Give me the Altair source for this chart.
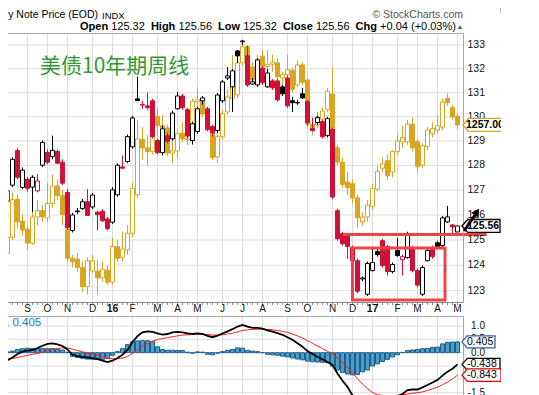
import altair as alt
import numpy as np
import pandas as pd

# ---------------- data ----------------
START = "2015-08-03"
N_WEEKS = 92
week_dates = pd.date_range(START, periods=N_WEEKS, freq="7D").strftime("%Y-%m-%d").tolist()

# 10-year Treasury note price, weekly candles
tn_open = [127.33, 126.55, 127.20, 128.61, 127.11, 127.44, 127.12, 126.97, 128.01, 128.53,
           128.36, 128.57, 128.13, 126.91, 125.38, 126.13, 126.26, 126.53, 126.32, 126.11,
           126.15, 125.84, 125.71, 126.81, 127.94, 128.16, 128.76, 130.74, 130.50, 130.45,
           130.66, 129.02, 128.52, 129.22, 129.09, 130.33, 130.86, 130.29, 129.02, 129.39,
           130.66, 130.33, 129.59, 129.43, 130.66, 131.61, 131.24, 132.75, 133.14, 132.54,
           131.36, 131.32, 132.03, 131.24, 131.49, 131.49, 131.24, 131.61, 130.66, 130.57,
           130.95, 130.62, 129.51, 129.76, 129.80, 129.22, 129.47, 126.17, 125.25, 125.17,
           124.70, 124.18, 123.46, 122.86, 123.79, 124.54, 124.97, 124.74, 123.75, 124.58,
           124.22, 124.30, 124.70, 123.79, 122.86, 124.18, 124.70, 124.89, 124.78, 125.72,
           125.60, 125.32]
tn_high = [127.44, 127.32, 128.33, 128.69, 127.92, 127.52, 127.60, 127.64, 129.02, 128.65,
           129.22, 128.65, 128.25, 127.04, 126.08, 126.28, 126.64, 127.04, 126.88, 126.17,
           126.24, 125.92, 127.12, 128.09, 128.41, 129.26, 130.04, 131.67, 130.66, 131.00,
           130.74, 129.10, 129.63, 129.34, 130.25, 131.03, 130.95, 130.37, 129.80, 130.41,
           130.86, 130.41, 129.67, 130.98, 131.53, 132.07, 131.99, 132.79, 133.21, 132.96,
           131.61, 132.45, 132.12, 131.99, 131.57, 131.57, 131.32, 131.70, 130.82, 130.70,
           131.19, 130.70, 129.96, 130.04, 129.88, 130.00, 129.55, 126.24, 125.33, 125.25,
           124.78, 124.26, 123.56, 124.15, 124.66, 124.66, 125.05, 124.81, 124.11, 125.09,
           124.42, 125.33, 124.78, 123.87, 123.99, 124.66, 124.78, 124.97, 125.96, 126.36,
           125.64, 125.56]
tn_low = [126.60, 126.50, 127.12, 127.44, 127.04, 126.95, 126.12, 126.91, 127.93, 128.05,
          128.25, 128.05, 127.20, 125.41, 125.30, 126.04, 126.20, 125.96, 126.24, 125.38,
          125.71, 125.38, 125.64, 126.73, 127.84, 128.09, 128.69, 130.66, 130.33, 130.29,
          129.10, 128.45, 128.41, 128.90, 129.02, 130.29, 130.29, 129.10, 128.86, 129.30,
          130.49, 129.39, 129.18, 129.34, 130.58, 131.53, 130.20, 132.24, 133.00, 131.24,
          131.32, 131.24, 131.32, 131.20, 131.11, 130.62, 130.86, 130.37, 130.20, 130.49,
          130.74, 129.63, 129.39, 129.67, 129.10, 129.14, 126.64, 124.97, 124.78, 124.26,
          124.11, 122.90, 123.37, 122.79, 123.75, 124.34, 123.91, 123.60, 123.68, 124.34,
          123.60, 124.26, 123.72, 123.14, 122.79, 124.15, 124.26, 124.66, 124.70, 125.68,
          125.21, 125.32]
tn_close = [127.04, 126.97, 128.25, 127.52, 127.81, 127.07, 127.52, 127.37, 128.94, 128.13,
            128.62, 128.09, 127.28, 125.49, 126.00, 126.16, 126.53, 125.98, 126.80, 126.01,
            125.77, 125.45, 127.01, 128.01, 127.89, 129.18, 129.95, 130.67, 130.48, 130.38,
            129.18, 128.52, 129.50, 128.99, 130.15, 130.86, 130.37, 129.20, 129.71, 130.33,
            130.78, 129.47, 129.34, 130.90, 131.45, 131.70, 131.91, 132.54, 133.17, 131.32,
            131.45, 132.37, 131.41, 131.82, 131.20, 130.70, 130.95, 130.45, 130.58, 130.59,
            130.78, 129.76, 129.43, 129.96, 129.18, 129.92, 126.72, 125.05, 124.85, 124.74,
            124.18, 122.98, 123.50, 124.07, 124.11, 124.42, 123.99, 123.75, 124.03, 124.38,
            124.34, 125.25, 123.79, 123.22, 123.91, 124.58, 124.34, 124.74, 125.88, 125.92,
            125.52, 125.56]

# gold overlay (own scale), weekly candles
gold_open = [1093, 1093, 1112, 1159, 1132, 1122, 1105, 1137, 1145, 1136,
             1154, 1176, 1164, 1122, 1087, 1086, 1076, 1054, 1072, 1072,
             1064, 1073, 1059, 1101, 1088, 1097, 1117, 1165, 1237, 1226,
             1221, 1269, 1256, 1253, 1219, 1222, 1246, 1238, 1237, 1289,
             1290, 1272, 1253, 1214, 1241, 1275, 1294, 1299, 1345, 1369,
             1339, 1320, 1355, 1340, 1343, 1345, 1323, 1328, 1334, 1313,
             1342, 1320, 1258, 1257, 1265, 1278, 1300, 1226, 1207, 1181,
             1179, 1161, 1131, 1137, 1150, 1172, 1199, 1209, 1194, 1221,
             1234, 1234, 1258, 1234, 1203, 1228, 1245, 1250, 1254, 1294,
             1281, 1269]
gold_high = [1100, 1125, 1168, 1165, 1140, 1127, 1146, 1158, 1152, 1180,
             1191, 1184, 1171, 1131, 1091, 1093, 1083, 1088, 1091, 1085,
             1083, 1079, 1111, 1109, 1119, 1127, 1180, 1264, 1254, 1243,
             1281, 1281, 1271, 1257, 1237, 1250, 1261, 1257, 1294, 1310,
             1294, 1281, 1256, 1248, 1278, 1306, 1357, 1349, 1376, 1372,
             1346, 1357, 1364, 1364, 1357, 1352, 1332, 1357, 1338, 1349,
             1346, 1323, 1267, 1275, 1281, 1309, 1339, 1230, 1213, 1194,
             1184, 1165, 1143, 1158, 1178, 1203, 1213, 1217, 1223, 1246,
             1256, 1264, 1267, 1237, 1232, 1254, 1261, 1271, 1294, 1301,
             1285, 1273]
gold_low = [1079, 1088, 1109, 1123, 1114, 1097, 1103, 1127, 1131, 1131,
            1148, 1158, 1127, 1083, 1076, 1071, 1048, 1045, 1070, 1045,
            1059, 1056, 1056, 1083, 1083, 1091, 1112, 1161, 1210, 1203,
            1217, 1243, 1230, 1215, 1206, 1213, 1234, 1230, 1230, 1275,
            1268, 1250, 1210, 1206, 1237, 1271, 1285, 1294, 1341, 1320,
            1313, 1316, 1332, 1328, 1332, 1320, 1313, 1316, 1303, 1310,
            1313, 1254, 1243, 1253, 1261, 1275, 1220, 1203, 1174, 1164,
            1154, 1123, 1126, 1131, 1146, 1169, 1194, 1184, 1187, 1217,
            1226, 1230, 1221, 1194, 1199, 1223, 1240, 1246, 1250, 1284,
            1264, 1251]
gold_close = [1091, 1112, 1159, 1131, 1121, 1105, 1137, 1145, 1137, 1154,
              1176, 1164, 1140, 1087, 1083, 1076, 1054, 1084, 1084, 1064,
              1074, 1059, 1101, 1087, 1098, 1117, 1173, 1238, 1226, 1221,
              1271, 1256, 1253, 1219, 1222, 1245, 1238, 1237, 1290, 1292,
              1272, 1253, 1213, 1241, 1273, 1296, 1313, 1345, 1369, 1325,
              1320, 1349, 1340, 1343, 1346, 1325, 1328, 1335, 1307, 1342,
              1317, 1258, 1250, 1268, 1276, 1304, 1224, 1207, 1178, 1174,
              1161, 1136, 1137, 1152, 1173, 1195, 1205, 1189, 1221, 1235,
              1240, 1258, 1226, 1201, 1229, 1250, 1252, 1256, 1289, 1288,
              1268, 1257]

# MACD(12,26,9) panel
macd_line = [-0.33, -0.28, -0.18, -0.05, 0.04, 0.08, 0.10, 0.17, 0.26, 0.33,
             0.35, 0.31, 0.25, 0.12, -0.08, -0.13, -0.16, -0.18, -0.20, -0.24,
             -0.30, -0.35, -0.30, -0.20, -0.08, 0.10, 0.40, 0.62, 0.76, 0.80,
             0.78, 0.72, 0.68, 0.70, 0.76, 0.78, 0.76, 0.72, 0.70, 0.72,
             0.70, 0.63, 0.58, 0.64, 0.72, 0.80, 0.88, 0.98, 1.04, 0.98,
             0.93, 0.93, 0.90, 0.84, 0.79, 0.73, 0.67, 0.58, 0.48, 0.35,
             0.22, 0.06, -0.05, -0.15, -0.25, -0.35, -0.46, -0.78, -1.05, -1.28,
             -1.60, -1.85, -2.00, -2.05, -2.05, -1.98, -1.90, -1.80, -1.70, -1.62,
             -1.55, -1.40, -1.38, -1.38, -1.30, -1.21, -1.12, -1.02, -0.86, -0.71,
             -0.60, -0.438]
macd_signal = [-0.28, -0.25, -0.22, -0.18, -0.14, -0.10, -0.06, -0.03, 0.02, 0.07,
               0.12, 0.16, 0.18, 0.18, 0.13, 0.08, 0.03, -0.01, -0.05, -0.09,
               -0.16, -0.20, -0.23, -0.23, -0.20, -0.14, -0.02, 0.11, 0.24, 0.35,
               0.43, 0.49, 0.53, 0.56, 0.60, 0.63, 0.66, 0.67, 0.68, 0.69,
               0.69, 0.68, 0.66, 0.66, 0.67, 0.70, 0.73, 0.78, 0.83, 0.86,
               0.87, 0.88, 0.88, 0.87, 0.86, 0.83, 0.80, 0.76, 0.70, 0.63,
               0.55, 0.45, 0.35, 0.25, 0.15, 0.05, -0.05, -0.20, -0.37, -0.55,
               -0.76, -0.98, -1.18, -1.35, -1.49, -1.58, -1.60, -1.62, -1.62, -1.61,
               -1.58, -1.55, -1.52, -1.50, -1.47, -1.42, -1.36, -1.29, -1.20, -1.10,
               -0.98, -0.843]
macd_hist = [-0.05, 0.03, 0.06, 0.12, 0.15, 0.17, 0.16, 0.15, 0.15, 0.15,
             0.15, 0.13, 0.10, 0.02, -0.14, -0.18, -0.21, -0.24, -0.25, -0.25,
             -0.25, -0.22, -0.10, 0.04, 0.15, 0.30, 0.41, 0.44, 0.45, 0.45,
             0.42, 0.22, 0.12, 0.09, 0.09, 0.08, 0.08, 0.02, -0.02, 0.03,
             0.02, -0.06, -0.08, -0.02, 0.04, 0.09, 0.12, 0.18, 0.17, 0.09,
             0.06, 0.04, 0.00, -0.06, -0.08, -0.10, -0.13, -0.16, -0.20, -0.24,
             -0.27, -0.32, -0.34, -0.35, -0.36, -0.38, -0.50, -0.65, -0.74, -0.80,
             -0.83, -0.82, -0.72, -0.65, -0.50, -0.42, -0.33, -0.25, -0.16, -0.08,
             0.01, 0.08, 0.10, 0.12, 0.15, 0.16, 0.20, 0.21, 0.33, 0.39,
             0.40, 0.405]

# axis ticks / labels
month_dates = ["2015-08-03", "2015-09-07", "2015-10-05", "2015-11-02", "2015-12-07",
               "2016-01-04", "2016-02-01", "2016-03-07", "2016-04-04", "2016-05-02",
               "2016-06-06", "2016-07-04", "2016-08-01", "2016-09-05", "2016-10-03",
               "2016-11-07", "2016-12-05", "2017-01-02", "2017-02-06", "2017-03-06",
               "2017-04-03", "2017-05-01"]
month_labels = ["A", "S", "O", "N", "D", "16", "F", "M", "A", "M", "J", "J", "A",
                "S", "O", "N", "D", "17", "F", "M", "A", "M"]
price_ticks = [123, 124, 125, 126, 127, 128, 129, 130, 131, 132, 133]
macd_ticks = [1.0, 0.5, 0.0, -0.5, -1.0, -1.5]
macd_tick_text = ["1.0", "0.5", "0.0", "-0.5", "-1.0", "-1.5"]
last_gold_label = 1257.00
chg_text = "+0.04 (+0.03%)"

# annotations drawn on the chart (in data coordinates)
box_dates = ["2016-12-05", "2017-04-13T12:00:00Z"]
box_prices = [124.68, 122.64]
hline_dates = ["2016-11-21T17:00:00Z", "2017-06-11T00:00:00Z"]
hline_price = 125.22

for arr in (tn_open, tn_high, tn_low, tn_close, gold_open, gold_high, gold_low,
            gold_close, macd_line, macd_signal, macd_hist):
    assert len(arr) == N_WEEKS, len(arr)

# ---------------- styling ----------------
FONT = "Liberation Sans"
BLACK = "#000000"
RED = "#d0103a"
GOLD = "#daa520"
GRID = "#dedede"
FRAME = "#a8a8a8"
ANN = "#ef4444"

W, H = 493, 387          # the StockCharts image: page x 8..501, y 8..395

# x scale: 5 px per week, candle centres on half pixels
base = pd.Timestamp(START)
px_per_day = 5.0 / 7.0
t0 = base + pd.Timedelta(days=5.5 / px_per_day)
t1 = t0 + pd.Timedelta(days=W / px_per_day)
xs = alt.Scale(type="utc", domain=[int(t0.value // 10**6), int(t1.value // 10**6)], padding=0)

ys_tn = alt.Scale(type="log", domain=[123, 133], range=[282.7, 37.0], nice=False)
ys_gold = alt.Scale(type="log", domain=[1050.0, 1371.5], range=[282.0, 37.0], nice=False)
ys_macd = alt.Scale(type="linear", domain=[-1.5, 1.0], range=[384.7, 318.0], nice=False, zero=False)


def X(field="date"):
    return alt.X(f"{field}:T", scale=xs, axis=None)


def Y(field, scale):
    return alt.Y(f"{field}:Q", scale=scale, axis=None)


one = pd.DataFrame({"k": [0]})


def hrule(x1, x2, y, color, w=1.0):
    return alt.Chart(one).mark_rule(color=color, strokeWidth=w).encode(
        x=alt.value(x1), x2=alt.value(x2), y=alt.value(y))


def vrule(x, y1, y2, color, w=1.0):
    return alt.Chart(one).mark_rule(color=color, strokeWidth=w).encode(
        x=alt.value(x), y=alt.value(y1), y2=alt.value(y2))


def txt(s, x, y, size, color=BLACK, weight="normal", align="left", font=FONT):
    return alt.Chart(one).mark_text(text=s, align=align, baseline="middle", fontSize=size,
                                    fontWeight=weight, color=color, font=font).encode(
        x=alt.value(x), y=alt.value(y))


# ---------------- tables ----------------
tn = pd.DataFrame(dict(date=week_dates, o=tn_open, h=tn_high, l=tn_low, c=tn_close))
prev = tn["c"].shift(1)
tn["col"] = np.where(prev.isna() | (tn["c"] >= prev), BLACK, RED)
tn["fillc"] = np.where(tn["c"] > tn["o"], "#ffffff", tn["col"])

gd = pd.DataFrame(dict(date=week_dates, o=gold_open, h=gold_high, l=gold_low, c=gold_close))
gd["fillc"] = np.where(gd["c"] > gd["o"], "#ffffff", GOLD)

md = pd.DataFrame(dict(date=week_dates, m=macd_line, s=macd_signal, hst=macd_hist))
mg = pd.DataFrame(dict(d=month_dates, t=month_labels))
mg["year"] = mg["t"].str.len() > 1
pg = pd.DataFrame(dict(p=price_ticks, t=[str(v) for v in price_ticks]))
mtk = pd.DataFrame(dict(v=macd_ticks, t=macd_tick_text))

layers = []

# grids
layers.append(alt.Chart(mg).mark_rule(color=GRID).encode(x=X("d"), y=alt.value(25.5), y2=alt.value(294)))
layers.append(alt.Chart(mg).mark_rule(color=GRID).encode(x=X("d"), y=alt.value(308.5), y2=alt.value(387)))
layers.append(alt.Chart(pg).mark_rule(color=GRID).encode(y=Y("p", ys_tn), x=alt.value(0), x2=alt.value(455)))
layers.append(alt.Chart(mtk).mark_rule(color=GRID).encode(y=Y("v", ys_macd), x=alt.value(0), x2=alt.value(455)))

# gold candles (behind)
layers.append(alt.Chart(gd).mark_rule(color=GOLD, strokeWidth=1).encode(x=X(), y=Y("l", ys_gold), y2="h:Q"))
layers.append(alt.Chart(gd).mark_bar(size=4, stroke=GOLD, strokeWidth=1).encode(
    x=X(), y=Y("o", ys_gold), y2="c:Q", fill=alt.Fill("fillc:N", scale=None)))

# treasury candles
layers.append(alt.Chart(tn).mark_rule(strokeWidth=1).encode(
    x=X(), y=Y("l", ys_tn), y2="h:Q", color=alt.Color("col:N", scale=None)))
layers.append(alt.Chart(tn).mark_bar(size=4, strokeWidth=1).encode(
    x=X(), y=Y("o", ys_tn), y2="c:Q", fill=alt.Fill("fillc:N", scale=None),
    stroke=alt.Stroke("col:N", scale=None)))

# red hand-drawn annotations
ann_box = pd.DataFrame(dict(x1=[box_dates[0]], x2=[box_dates[1]], p1=[box_prices[0]], p2=[box_prices[1]]))
ann_line = pd.DataFrame(dict(x1=[hline_dates[0]], x2=[hline_dates[1]], p=[hline_price]))
layers.append(alt.Chart(ann_line).mark_rule(color=ANN, strokeWidth=3).encode(
    x=X("x1"), x2="x2:T", y=Y("p", ys_tn)))
layers.append(alt.Chart(ann_box).mark_rect(fillOpacity=0, stroke=ANN, strokeWidth=3).encode(
    x=X("x1"), x2="x2:T", y=Y("p1", ys_tn), y2="p2:Q"))

# MACD
layers.append(alt.Chart(md).mark_bar(size=4, fill="#4c9dca", stroke="#1f5f8b", strokeWidth=1).encode(
    x=X(), y=Y("hst", ys_macd), y2=alt.datum(0)))
layers.append(alt.Chart(md).mark_line(color="#ff1a1a", strokeWidth=1).encode(x=X(), y=Y("s", ys_macd)))
layers.append(alt.Chart(md).mark_line(color=BLACK, strokeWidth=1.8).encode(x=X(), y=Y("m", ys_macd)))

# panel frames
layers.append(hrule(0, 455.5, 25.5, FRAME))
layers.append(vrule(455.5, 25.5, 294.5, FRAME))
layers.append(hrule(0, 455.5, 294.5, "#8a8a8a"))
layers.append(alt.Chart(tn).mark_rule(color="#8a8a8a").encode(x=X(), y=alt.value(294.5), y2=alt.value(297)))
layers.append(hrule(0, 455.5, 308.5, FRAME))
layers.append(vrule(455.5, 308.5, 387, FRAME))
layers.append(vrule(492.5, 0, 5, "#bdbdbd"))

# month labels
layers.append(alt.Chart(mg[~mg["year"]]).mark_text(fontSize=10, font=FONT, color="#111111",
                                                   baseline="middle").encode(
    x=X("d"), y=alt.value(300.5), text="t:N"))
layers.append(alt.Chart(mg[mg["year"]]).mark_text(fontSize=10.5, font=FONT, fontWeight="bold",
                                                  color="#111111", baseline="middle").encode(
    x=X("d"), y=alt.value(300.5), text="t:N"))

# right axis labels
layers.append(alt.Chart(pg).mark_text(fontSize=10.5, font=FONT, align="right", baseline="middle",
                                      color="#111111").encode(
    y=Y("p", ys_tn), x=alt.value(477), text="t:N"))
layers.append(alt.Chart(mtk).mark_text(fontSize=10, font=FONT, align="right", baseline="middle",
                                       color="#111111").encode(
    y=Y("v", ys_macd), x=alt.value(477), text="t:N"))


# value tags on the right
def tag(value, scale, cx, size, path, border, label, weight="normal", tx=459, fs=10.5):
    d = pd.DataFrame(dict(v=[value], t=[label]))
    shape = alt.Chart(d).mark_point(shape=path, size=size, filled=True, fill="white", stroke=border,
                                    strokeWidth=1.3, opacity=1).encode(
        x=alt.value(cx), y=Y("v", scale))
    text = alt.Chart(d).mark_text(align="left", baseline="middle", fontSize=fs, font=FONT,
                                  fontWeight=weight, color=BLACK).encode(
        x=alt.value(tx), y=Y("v", scale), text="t:N")
    return [shape, text]


P_TN = "M-1,0L-0.7,-0.34L1,-0.34L1,0.34L-0.7,0.34Z"
P_GOLD = "M-1,0L-0.78,-0.26L1,-0.26L1,0.26L-0.78,0.26Z"
P_M1 = "M-1,0L-0.7,-0.36L1,-0.36L1,0.36L-0.7,0.36Z"
P_M2 = "M-1,0L-0.72,-0.32L1,-0.32L1,0.32L-0.72,0.32Z"

layers += tag(gold_close[-1], ys_gold, 480, 2500, P_GOLD, GOLD, f"{last_gold_label:.2f}", "bold", 458, 10.5)
layers += tag(tn_close[-1], ys_tn, 473, 1444, P_TN, BLACK, f"{tn_close[-1]:.2f}", "bold", 459, 10.5)
layers += tag(macd_hist[-1], ys_macd, 470.5, 1089, P_M1, "#2f62a8", f"{macd_hist[-1]:.3f}")
layers += tag(macd_line[-1], ys_macd, 473, 1444, P_M2, BLACK, f"{macd_line[-1]:.3f}")
layers += tag(macd_signal[-1], ys_macd, 473.5, 1521, P_M2, "#e00000", f"{macd_signal[-1]:.3f}")

# arrow annotation
layers.append(alt.Chart(one).mark_rule(color=BLACK, strokeWidth=3).encode(
    x=alt.value(456), x2=alt.value(467), y=alt.value(223), y2=alt.value(207)))
layers.append(alt.Chart(one).mark_point(shape="triangle-up", size=80, filled=True, color=BLACK,
                                        angle=34, opacity=1).encode(x=alt.value(469), y=alt.value(204)))

# header texts
layers.append(txt("Treasury Note Price (EOD)", 90, 7, 10.5, align="right"))
layers.append(txt("INDX", 94, 7.5, 9.5))
layers.append(txt("\u00a9 StockCharts.com", 455, 7, 10.5, color="#555555", align="right"))
segments = [("Open", 72, "bold"), (f"{tn_open[-1]:.2f}", 103.2, "normal"),
            ("High", 142.9, "bold"), (f"{tn_high[-1]:.2f}", 170.4, "normal"),
            ("Low", 210.1, "bold"), (f"{tn_low[-1]:.2f}", 235.2, "normal"),
            ("Close", 274.9, "bold"), (f"{tn_close[-1]:.2f}", 307.9, "normal"),
            ("Chg", 347.6, "bold"), (chg_text, 372.1, "normal")]
for s, x, wgt in segments:
    layers.append(txt(s, x, 18.5, 11, weight=wgt))
layers.append(alt.Chart(one).mark_point(shape="triangle-up", size=22, filled=True, color="#2e8b3a",
                                        opacity=1).encode(x=alt.value(452), y=alt.value(19)))

# MACD legend (left part is cut off in the reference)
layers.append(txt(", " + f"{macd_hist[-1]:.3f}", -2, 315, 11.5, color="#2080c0"))

# Chinese annotation
layers.append(txt("美债10年期周线", 32, 59, 21, color="#339933", font="Noto Sans CJK SC"))

chart = alt.layer(*layers).resolve_scale(y="independent").properties(
    width=W, height=H, autosize=alt.AutoSizeParams(type="none"), padding=0,
    background="white").configure_view(stroke=None)

chart.save("out.html", embed_options={"renderer": "svg", "actions": False})
